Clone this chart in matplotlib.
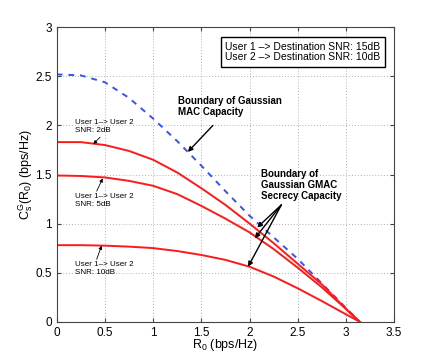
import matplotlib
matplotlib.use("Agg")
import matplotlib.pyplot as plt

plt.rcParams['font.family'] = ['Liberation Sans', 'DejaVu Sans']
plt.rcParams['mathtext.default'] = 'regular'

# R0 grid (bps/Hz)
r0 = [0.0, 0.25, 0.5, 0.75, 1.0, 1.25, 1.5, 1.75, 2.0, 2.25, 2.5, 2.75, 3.0, 3.1416]
mac_capacity = [2.52, 2.51, 2.44, 2.28, 2.07, 1.84, 1.59, 1.33, 1.08, 0.86, 0.64, 0.39, 0.14, 0.0]
secrecy_2db = [1.83, 1.83, 1.80, 1.74, 1.65, 1.52, 1.36, 1.19, 1.00, 0.80, 0.59, 0.38, 0.13, 0.0]
secrecy_5db = [1.49, 1.485, 1.47, 1.435, 1.385, 1.30, 1.18, 1.05, 0.91, 0.74, 0.55, 0.35, 0.13, 0.0]
secrecy_10db = [0.78, 0.78, 0.775, 0.765, 0.75, 0.72, 0.68, 0.63, 0.56, 0.46, 0.34, 0.21, 0.075, 0.0]

xticks = [0, 0.5, 1, 1.5, 2, 2.5, 3, 3.5]
yticks = [0, 0.5, 1, 1.5, 2, 2.5, 3]

fig = plt.figure(figsize=(4.36, 3.62), dpi=100)
ax = fig.add_axes([0.130, 0.1113, 0.774, 0.8133])

ax.plot(r0, mac_capacity, color='#3355ee', linestyle=(0, (3, 3)), linewidth=1.4)
for ys in (secrecy_2db, secrecy_5db, secrecy_10db):
    ax.plot(r0, ys, color='#ff1a1a', linewidth=1.4)

ax.set_xlim(0, 3.5)
ax.set_ylim(0, 3)
ax.set_xticks(xticks)
ax.set_yticks(yticks)
ax.set_xticklabels(['0', '0.5', '1', '1.5', '2', '2.5', '3', '3.5'])
ax.set_yticklabels(['0', '0.5', '1', '1.5', '2', '2.5', '3'])
ax.tick_params(direction='in', top=True, right=True, labelsize=8.5, length=3, color='#444444')
ax.grid(True, linestyle=(0, (1, 2)), color='#b0b0b0', linewidth=0.7)
for s in ax.spines.values():
    s.set_color('#444444')
    s.set_linewidth(0.8)

ax.set_xlabel('R$_0$ (bps/Hz)', fontsize=9, labelpad=-1)
ax.set_ylabel('C$_s^G$(R$_0$) (bps/Hz)', fontsize=9, labelpad=0)

# Legend-like box
ax.text(0.73, 0.916, 'User 1 \u2013> Destination SNR: 15dB\nUser 2 \u2013> Destination SNR: 10dB',
        transform=ax.transAxes, ha='center', va='center', fontsize=7.5, linespacing=1.1,
        bbox=dict(boxstyle='square,pad=0.4', facecolor='white', edgecolor='black', linewidth=1.0))

arrow = dict(arrowstyle='-|>', color='black', lw=1.0, mutation_scale=7, shrinkA=0, shrinkB=0)
arrow_s = dict(arrowstyle='-|>', color='black', lw=0.6, mutation_scale=5, shrinkA=0, shrinkB=0)

# MAC capacity annotation
ax.annotate('', xy=(1.36, 1.73), xytext=(1.62, 2.0), arrowprops=arrow)
ax.text(1.26, 2.195, 'Boundary of Gaussian\nMAC Capacity', fontsize=7, fontweight='bold',
        ha='left', va='center', linespacing=1.15)

# Secrecy capacity annotation
ax.text(2.12, 1.39, 'Boundary of\nGaussian GMAC\nSecrecy Capacity', fontsize=7, fontweight='bold',
        ha='left', va='center', linespacing=1.15)
for tip in [(2.08, 0.96), (2.055, 0.85), (1.985, 0.56)]:
    ax.annotate('', xy=tip, xytext=(2.33, 1.19), arrowprops=arrow)

# SNR annotations
ax.text(0.19, 1.99, 'User 1\u2013> User 2\nSNR: 2dB', fontsize=5.8, ha='left', va='center', linespacing=1.2)
ax.annotate('', xy=(0.38, 1.81), xytext=(0.45, 1.88), arrowprops=arrow_s)
ax.text(0.19, 1.24, 'User 1\u2013> User 2\nSNR: 5dB', fontsize=5.8, ha='left', va='center', linespacing=1.2)
ax.annotate('', xy=(0.477, 1.46), xytext=(0.415, 1.33), arrowprops=arrow_s)
ax.text(0.19, 0.54, 'User 1\u2013> User 2\nSNR: 10dB', fontsize=5.8, ha='left', va='center', linespacing=1.2)
ax.annotate('', xy=(0.466, 0.775), xytext=(0.415, 0.636), arrowprops=arrow_s)

fig.savefig('out.png', dpi=100)
